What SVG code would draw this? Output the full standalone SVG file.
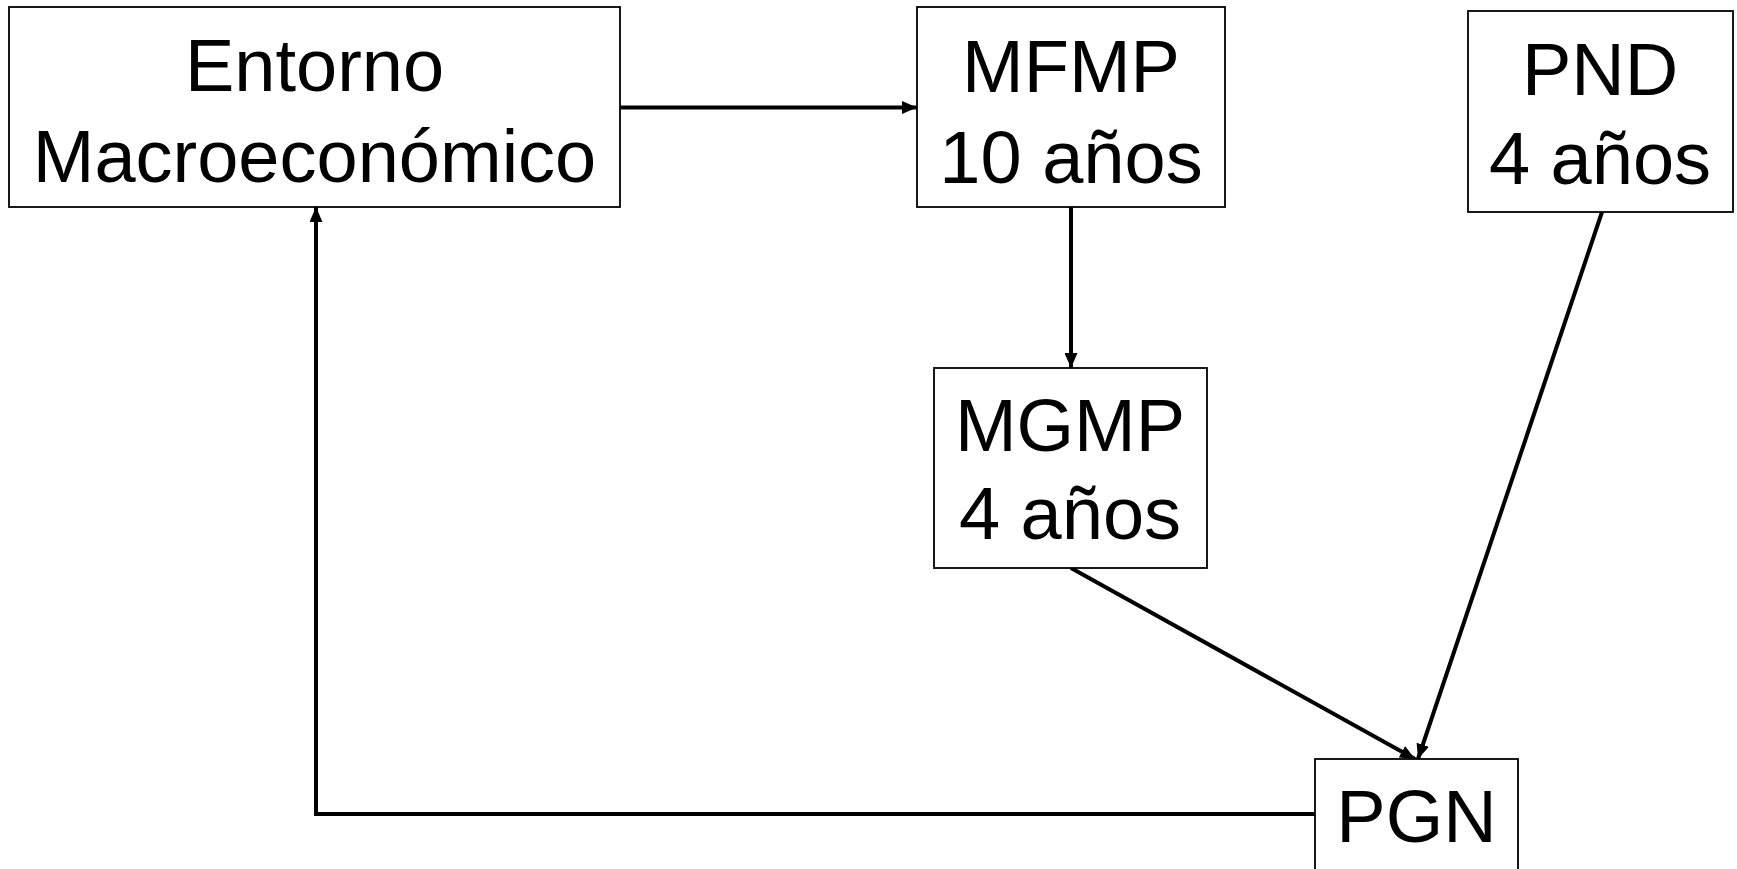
<svg xmlns="http://www.w3.org/2000/svg" width="1737" height="869" viewBox="0 0 1737 869">
<style>
.box{fill:#fff;stroke:#000;stroke-width:1.8}
.t{font-family:"Liberation Sans",Arial,sans-serif;font-size:74px;fill:#000;text-anchor:middle}
.c{fill:none;stroke:#000;stroke-width:4}
</style>
<defs>
<marker id="ah" markerUnits="userSpaceOnUse" markerWidth="15" markerHeight="13" viewBox="0 0 15 13" refX="15" refY="6.5" orient="auto">
<path d="M0,0 L15,6.5 L0,13 Z" fill="#000"/>
</marker>
</defs>
<rect width="1737" height="869" fill="#fff"/>
<g id="connectors">
<line class="c" x1="620" y1="107.5" x2="917" y2="107.5" marker-end="url(#ah)"/>
<line class="c" x1="1071" y1="207" x2="1071" y2="368" marker-end="url(#ah)"/>
<line class="c" x1="1602" y1="212" x2="1418" y2="759" marker-end="url(#ah)"/>
<line class="c" x1="1071" y1="568" x2="1415" y2="759" marker-end="url(#ah)"/>
<polyline class="c" points="1315,814 316,814 316,207" marker-end="url(#ah)"/>
</g>
<g id="entorno">
<rect class="box" x="9" y="7" width="611" height="200"/>
<text class="t" x="314.5" y="91">Entorno</text>
<text class="t" x="314.5" y="182">Macroeconómico</text>
</g>
<g id="mfmp">
<rect class="box" x="917" y="7" width="308" height="200"/>
<text class="t" x="1071" y="92">MFMP</text>
<text class="t" x="1071" y="183">10 años</text>
</g>
<g id="pnd">
<rect class="box" x="1468" y="11" width="265" height="201"/>
<text class="t" x="1600" y="95">PND</text>
<text class="t" x="1600" y="184">4 años</text>
</g>
<g id="mgmp">
<rect class="box" x="934" y="368" width="273" height="200"/>
<text class="t" x="1070" y="451">MGMP</text>
<text class="t" x="1070" y="539">4 años</text>
</g>
<g id="pgn">
<rect class="box" x="1315" y="759" width="203" height="120"/>
<text class="t" x="1416.5" y="842">PGN</text>
</g>
</svg>
